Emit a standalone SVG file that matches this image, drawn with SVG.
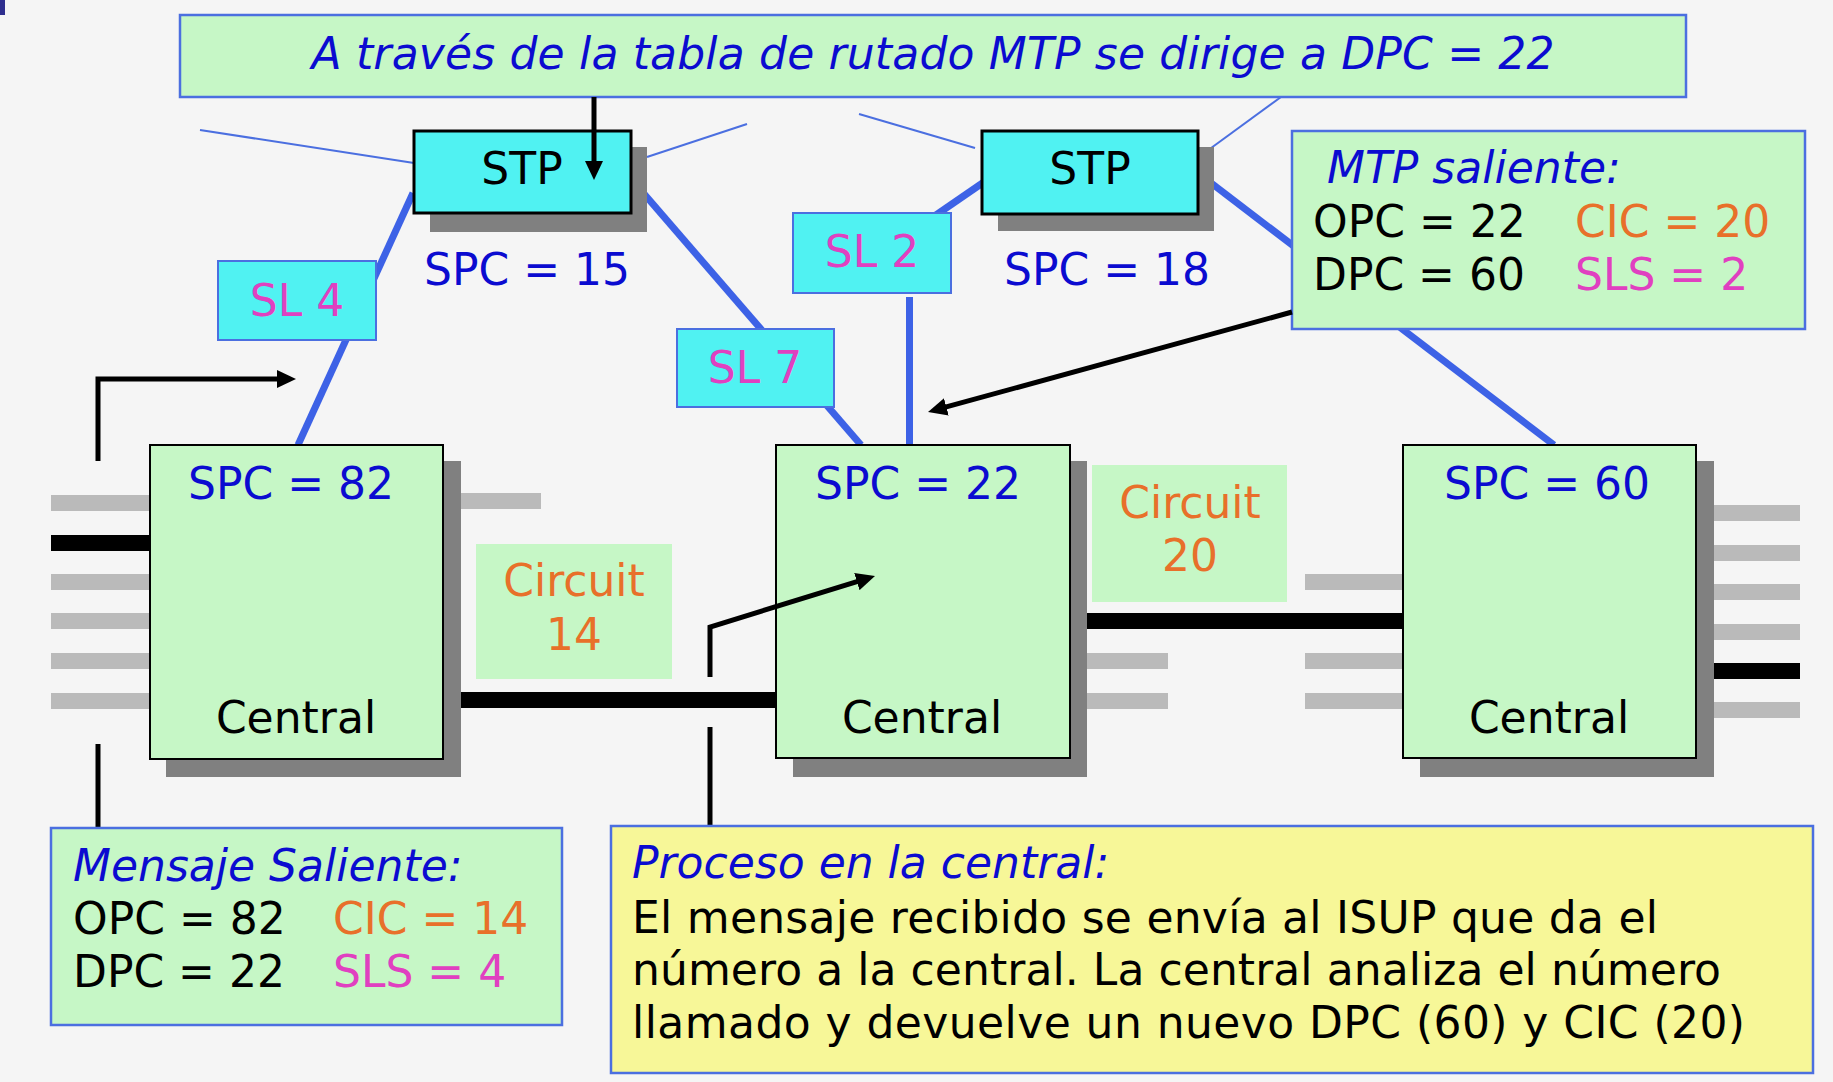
<svg xmlns="http://www.w3.org/2000/svg" width="1833" height="1082" viewBox="0 0 1833 1082">
<defs>
<style>
text{font-family:"DejaVu Sans",Verdana,sans-serif;font-size:44px}
.it{font-style:italic}
.blue{fill:#0b0bd0}
.blk{fill:#000}
.mag{fill:#e040c0}
.org{fill:#e8702a}
.green{fill:#c6f7c6}
.note{fill:#c6f7c6;stroke:#4b6fe0;stroke-width:2.5}
.sl{fill:#50f2f2;stroke:#4b6fe0;stroke-width:2}
.stp{fill:#50f2f2;stroke:#000;stroke-width:3}
.cen{fill:#c6f7c6;stroke:#000;stroke-width:2}
.shadow{fill:#808080}
.gray{fill:#bababa}
.trunk{fill:#000}
.thick{stroke:#3d62e6;stroke-width:7;fill:none}
.thin{stroke:#4b6fe0;stroke-width:2;fill:none}
.arr{stroke:#000;stroke-width:5;fill:none;stroke-linejoin:miter}
</style>
<marker id="ah" markerUnits="userSpaceOnUse" markerWidth="19" markerHeight="18" refX="1" refY="9" orient="auto">
<path d="M0,0 L19,9 L0,18 z" fill="#000"/>
</marker>
</defs>
<rect x="0" y="0" width="1833" height="1082" fill="#f5f5f5"/>
<rect x="0" y="0" width="5" height="15" fill="#2e2e8e"/>

<g id="trunks">
<rect class="gray" x="51" y="495" width="99" height="16"/>
<rect class="trunk" x="51" y="535" width="99" height="16"/>
<rect class="gray" x="51" y="574" width="99" height="16"/>
<rect class="gray" x="51" y="613" width="99" height="16"/>
<rect class="gray" x="51" y="653" width="99" height="16"/>
<rect class="gray" x="51" y="693" width="99" height="16"/>
<rect class="gray" x="444" y="493" width="97" height="16"/>
<rect class="trunk" x="444" y="692" width="333" height="16"/>
<rect class="trunk" x="1070" y="613" width="334" height="16"/>
<rect class="gray" x="1070" y="653" width="98" height="16"/>
<rect class="gray" x="1070" y="693" width="98" height="16"/>
<rect class="gray" x="1305" y="574" width="99" height="16"/>
<rect class="gray" x="1305" y="653" width="99" height="16"/>
<rect class="gray" x="1305" y="693" width="99" height="16"/>
<rect class="gray" x="1697" y="505" width="103" height="16"/>
<rect class="gray" x="1697" y="545" width="103" height="16"/>
<rect class="gray" x="1697" y="584" width="103" height="16"/>
<rect class="gray" x="1697" y="624" width="103" height="16"/>
<rect class="trunk" x="1697" y="663" width="103" height="16"/>
<rect class="gray" x="1697" y="702" width="103" height="16"/>
</g>

<g id="links">
<line class="thin" x1="200" y1="130" x2="414" y2="163"/>
<line class="thin" x1="647" y1="157" x2="747" y2="124"/>
<line class="thin" x1="859" y1="114" x2="975" y2="148"/>
<line class="thin" x1="1207" y1="151" x2="1281" y2="97"/>
<line class="thick" x1="413" y1="193" x2="298" y2="445"/>
<line class="thick" x1="639" y1="188" x2="861" y2="445"/>
<line class="thick" x1="984" y1="182" x2="920" y2="226"/>
<line class="thick" x1="909.5" y1="297" x2="909.5" y2="445"/>
<line class="thick" x1="1198" y1="173" x2="1554" y2="445"/>
<line class="arr" x1="98" y1="744" x2="98" y2="828"/>
<line class="arr" x1="710" y1="727" x2="710" y2="826"/>
</g>

<g id="top-note">
<rect class="note" x="180" y="15" width="1506" height="82"/>
<text class="it blue" x="933" y="69" text-anchor="middle" textLength="1243">A través de la tabla de rutado MTP se dirige a DPC = 22</text>
</g>

<g id="stp15">
<rect class="shadow" x="430" y="147" width="217" height="85"/>
<rect class="stp" x="414" y="131" width="217" height="82"/>
<text class="blk" x="522" y="184" text-anchor="middle">STP</text>
<text class="blue" x="424" y="285">SPC = 15</text>
</g>

<g id="stp18">
<rect class="shadow" x="998" y="147" width="216" height="84"/>
<rect class="stp" x="982" y="131" width="216" height="83"/>
<text class="blk" x="1090" y="184" text-anchor="middle">STP</text>
<text class="blue" x="1004" y="285">SPC = 18</text>
</g>

<g id="sl4">
<rect class="sl" x="218" y="261" width="158" height="79"/>
<text class="mag" x="297" y="316" text-anchor="middle">SL 4</text>
</g>

<g id="sl7">
<rect class="sl" x="677" y="329" width="157" height="78"/>
<text class="mag" x="755" y="383" text-anchor="middle">SL 7</text>
</g>

<g id="sl2">
<rect class="sl" x="793" y="213" width="158" height="80"/>
<text class="mag" x="872" y="267" text-anchor="middle">SL 2</text>
</g>

<g id="central82">
<rect class="shadow" x="166" y="461" width="295" height="316"/>
<rect class="cen" x="150" y="445" width="293" height="314"/>
<text class="blue" x="188" y="499">SPC = 82</text>
<text class="blk" x="296" y="733" text-anchor="middle">Central</text>
</g>

<g id="central22">
<rect class="shadow" x="793" y="461" width="294" height="316"/>
<rect class="cen" x="776" y="445" width="294" height="313"/>
<text class="blue" x="815" y="499">SPC = 22</text>
<text class="blk" x="922" y="733" text-anchor="middle">Central</text>
</g>

<g id="central60">
<rect class="shadow" x="1420" y="461" width="294" height="316"/>
<rect class="cen" x="1403" y="445" width="293" height="313"/>
<text class="blue" x="1444" y="499">SPC = 60</text>
<text class="blk" x="1549" y="733" text-anchor="middle">Central</text>
</g>

<g id="circuit14">
<rect class="green" x="476" y="544" width="196" height="135"/>
<text class="org" x="574" y="596" text-anchor="middle">Circuit</text>
<text class="org" x="574" y="650" text-anchor="middle">14</text>
</g>

<g id="circuit20">
<rect class="green" x="1092" y="465" width="195" height="137"/>
<text class="org" x="1190" y="518" text-anchor="middle">Circuit</text>
<text class="org" x="1190" y="571" text-anchor="middle">20</text>
</g>

<g id="mtp-saliente">
<rect class="note" x="1292" y="131" width="513" height="198"/>
<text class="it blue" x="1327" y="183">MTP saliente:</text>
<text class="blk" x="1313" y="237">OPC = 22</text>
<text class="org" x="1575" y="237">CIC = 20</text>
<text class="blk" x="1313" y="290">DPC = 60</text>
<text class="mag" x="1575" y="290">SLS = 2</text>
</g>

<g id="mensaje-saliente">
<rect class="note" x="51" y="828" width="511" height="197"/>
<text class="it blue" x="73" y="881">Mensaje Saliente:</text>
<text class="blk" x="73" y="934">OPC = 82</text>
<text class="org" x="333" y="934">CIC = 14</text>
<text class="blk" x="73" y="987">DPC = 22</text>
<text class="mag" x="333" y="987">SLS = 4</text>
</g>

<g id="proceso">
<rect x="611" y="826" width="1202" height="247" fill="#f7f798" stroke="#4b6fe0" stroke-width="2.5"/>
<text class="it blue" x="632" y="878">Proceso en la central:</text>
<text class="blk" x="632" y="933" textLength="1026">El mensaje recibido se envía al ISUP que da el</text>
<text class="blk" x="632" y="985" textLength="1089">número a la central. La central analiza el número</text>
<text class="blk" x="632" y="1038" textLength="1113">llamado y devuelve un nuevo DPC (60) y CIC (20)</text>
</g>

<g id="arrows">
<line class="arr" x1="594" y1="97" x2="594" y2="162" marker-end="url(#ah)"/>
<polyline class="arr" points="98,461 98,379 278,379" marker-end="url(#ah)"/>
<line class="arr" x1="1292" y1="312" x2="945.4" y2="407.2" marker-end="url(#ah)"/>
<polyline class="arr" points="710,677 710,627 857.8,581.3" marker-end="url(#ah)"/>
</g>
</svg>
